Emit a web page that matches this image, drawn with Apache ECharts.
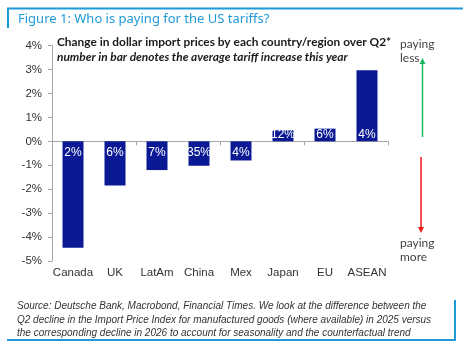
<!DOCTYPE html>
<html>
<head>
<meta charset="utf-8">
<script src="https://cdn.jsdelivr.net/npm/echarts@6/dist/echarts.min.js"></script>
<style>
  html, body { margin: 0; padding: 0; background: #fff; }
  #chart { width: 463px; height: 347px; }
</style>
</head>
<body>
<div id="chart"></div>
<script>
// Countries / regions along the x axis
const categories = ['Canada', 'UK', 'LatAm', 'China', 'Mex', 'Japan', 'EU', 'ASEAN'];
// Change in dollar import prices over Q2 (%)
const priceChange = [-4.45, -1.85, -1.2, -1.02, -0.8, 0.46, 0.53, 2.97];
// Average tariff increase this year (%), printed inside each bar
const tariffIncrease = [2, 6, 7, 35, 4, 12, 6, 4];
// Y axis range and step (%)
const yMin = -5, yMax = 4, yStep = 1;

const BLUE = '#1f9ad8';
const BAR = '#0b1a94';
const AXIS = '#a6a6a6';

const chart = echarts.init(document.getElementById('chart'), null, { renderer: 'canvas' });

const barData = priceChange.map((v, i) => ({
  value: v,
  label: {
    position: v < 0 ? 'insideTop' : 'insideBottom',
    distance: v < 0 ? 5 : 1
  }
}));

chart.setOption({
  animation: false,
  grid: { left: 52, right: 75, top: 45.6, bottom: 86 },
  xAxis: [
    {
      type: 'category',
      data: categories,
      position: 'bottom',
      axisLine: { show: false, onZero: false },
      axisTick: { show: false },
      axisLabel: { interval: 0, color: '#333', fontSize: 11.5, fontFamily: 'Liberation Sans, Arial', margin: 6 }
    },
    {
      type: 'category',
      data: categories,
      position: 'top',
      axisLine: { show: true, onZero: true, lineStyle: { color: AXIS, width: 1 } },
      axisTick: { show: true, inside: true, length: 4, lineStyle: { color: AXIS } },
      axisLabel: { show: false }
    }
  ],
  yAxis: {
    type: 'value',
    min: yMin, max: yMax, interval: yStep,
    axisLine: { show: true, lineStyle: { color: AXIS } },
    axisTick: { show: true, length: 4, lineStyle: { color: AXIS } },
    splitLine: { show: false },
    axisLabel: {
      color: '#333', fontSize: 11.5, fontFamily: 'Liberation Sans, Arial', margin: 10,
      formatter: v => v + '%'
    }
  },
  series: [{
    type: 'bar',
    xAxisIndex: 0,
    data: barData,
    barWidth: '50%',
    itemStyle: { color: BAR },
    label: {
      show: true,
      color: '#fff',
      fontSize: 12,
      fontFamily: 'Liberation Sans, Arial',
      formatter: p => tariffIncrease[p.dataIndex] + '%'
    }
  }],
  graphic: [
    // frame pieces
    { type: 'line', shape: { x1: 7, y1: 8.5, x2: 463, y2: 8.5 }, style: { stroke: BLUE, lineWidth: 2 } },
    { type: 'line', shape: { x1: 8, y1: 8, x2: 8, y2: 28 }, style: { stroke: BLUE, lineWidth: 2 } },
    { type: 'line', shape: { x1: 7, y1: 340, x2: 456, y2: 340 }, style: { stroke: BLUE, lineWidth: 2 } },
    { type: 'line', shape: { x1: 455, y1: 300, x2: 455, y2: 341 }, style: { stroke: BLUE, lineWidth: 2 } },
    // heading
    { type: 'text', left: 18, top: 12.5, style: { text: 'Figure 1: Who is paying for the US tariffs?', fill: BLUE, font: '13px "Noto Sans", sans-serif' } },
    // chart subtitles
    { type: 'text', left: 57, top: 36, style: { text: 'Change in dollar import prices by each country/region over Q2*', fill: '#1a1a1a', font: 'bold 11.9px Lato, sans-serif' } },
    { type: 'text', left: 57, top: 51, style: { text: 'number in bar denotes the average tariff increase this year', fill: '#1a1a1a', font: 'italic bold 11.9px Lato, sans-serif' } },
    // direction notes
    { type: 'text', left: 400, top: 37, style: { text: 'paying\nless', fill: '#444', font: '12px Lato, sans-serif', lineHeight: 14 } },
    { type: 'text', left: 400, top: 236, style: { text: 'paying\nmore', fill: '#444', font: '12px Lato, sans-serif', lineHeight: 14 } },
    // green arrow up
    { type: 'line', shape: { x1: 422.5, y1: 137, x2: 422.5, y2: 63 }, style: { stroke: '#1cb85a', lineWidth: 1.5 } },
    { type: 'polygon', shape: { points: [[419.5, 64], [425.5, 64], [422.5, 58]] }, style: { fill: '#1cb85a' } },
    // red arrow down
    { type: 'line', shape: { x1: 421, y1: 157, x2: 421, y2: 228 }, style: { stroke: '#f01818', lineWidth: 1.5 } },
    { type: 'polygon', shape: { points: [[418, 227], [424, 227], [421, 233]] }, style: { fill: '#f01818' } },
    // source note
    { type: 'text', left: 17, top: 299.5, style: {
      text: 'Source: Deutsche Bank, Macrobond, Financial Times. We look at the difference between the\nQ2 decline in the Import Price Index for manufactured goods (where available) in 2025 versus\nthe corresponding decline in 2026 to account for seasonality and the counterfactual trend',
      fill: '#333', font: 'italic 10px "Liberation Sans", Arial, sans-serif', lineHeight: 13.5 } }
  ]
});
</script>
</body>
</html>
